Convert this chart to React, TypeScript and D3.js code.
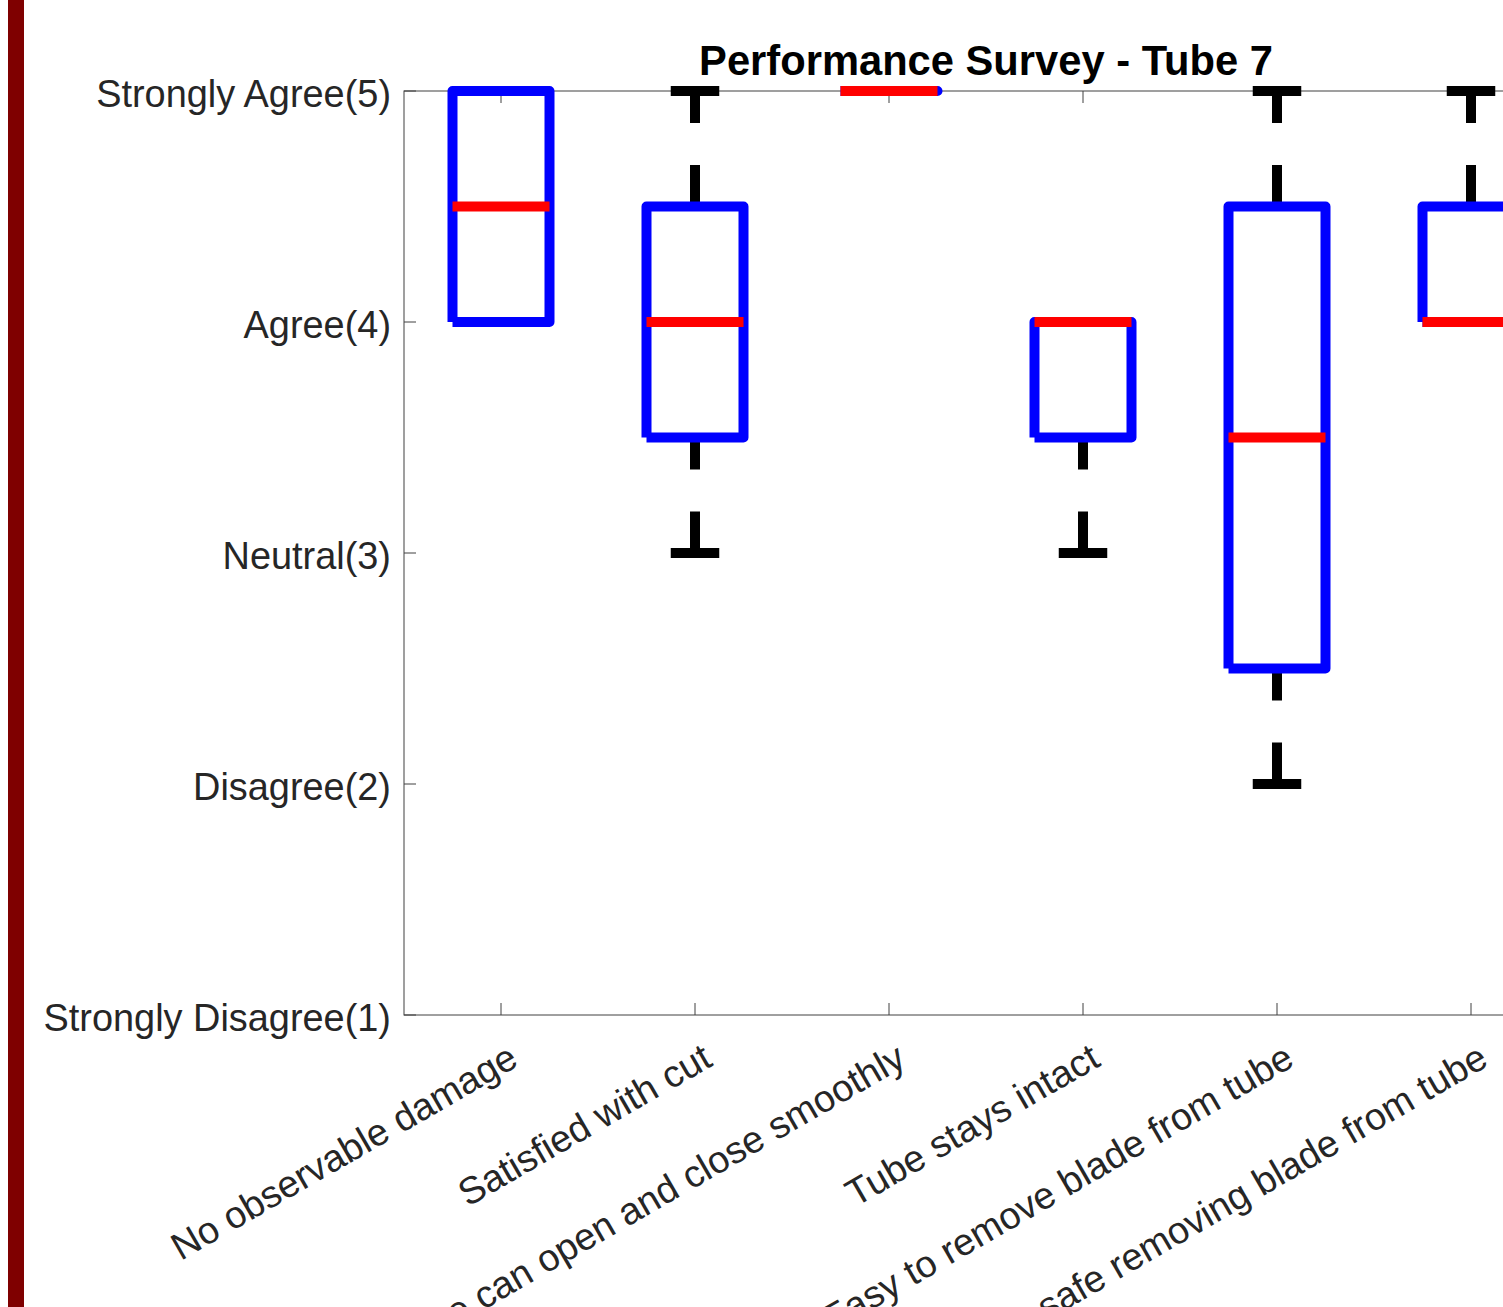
import React from "react";
import * as d3 from "d3";

// survey items (x axis)
const categories = [
  "No observable damage",
  "Satisfied with cut",
  "Tube can open and close smoothly",
  "Tube stays intact",
  "Easy to remove blade from tube",
  "Felt safe removing blade from tube",
];

// box statistics per item
const lowerAdjacent = [4, 3, 5, 3, 2, 4];
const q1 = [4, 3.5, 5, 3.5, 2.5, 4];
const medians = [4.5, 4, 5, 4, 3.5, 4];
const q3 = [5, 4.5, 5, 4, 4.5, 4.5];
const upperAdjacent = [5, 5, 5, 4, 5, 5];

const yTicks = [1, 2, 3, 4, 5];
const yTickLabels = [
  "Strongly Disagree(1)",
  "Disagree(2)",
  "Neutral(3)",
  "Agree(4)",
  "Strongly Agree(5)",
];

const title = "Performance Survey - Tube 7";

const W = 1503;
const H = 1307;
const left = 404;
const right = 1568;
const top = 91;
const bottom = 1015;
const font = "'Liberation Sans', Arial, Helvetica, sans-serif";
const fs = 37.9;
const axisColor = "#404040";
const textColor = "#262626";
const lw = 10;

const App = () => {
  const x = d3
    .scaleLinear()
    .domain([0.5, categories.length + 0.5])
    .range([left, right]);
  const y = d3.scaleLinear().domain([1, 5]).range([bottom, top]);

  const boxHalf = x(1.25) - x(1);
  const capHalf = x(1.125) - x(1);
  const tickLen = 12;

  const line = d3.line<[number, number]>();

  return (
    <div style={{ position: "absolute", left: 0, top: 0, width: W, height: H, background: "#fff" }}>
      <svg width={W} height={H} style={{ display: "block" }}>
        <rect x={0} y={0} width={W} height={H} fill="#fff" />
        <rect x={8} y={0} width={16} height={H} fill="#7f0000" />

        {/* axes box */}
        <g stroke={axisColor} strokeWidth={1} fill="none">
          <rect x={left} y={top} width={right - left} height={bottom - top} />
          {yTicks.map((v) => (
            <g key={"yt" + v}>
              <line x1={left} x2={left + tickLen} y1={y(v)} y2={y(v)} />
              <line x1={right} x2={right - tickLen} y1={y(v)} y2={y(v)} />
            </g>
          ))}
          {categories.map((c, i) => (
            <g key={"xt" + c}>
              <line x1={x(i + 1)} x2={x(i + 1)} y1={bottom} y2={bottom - tickLen} />
              <line x1={x(i + 1)} x2={x(i + 1)} y1={top} y2={top + tickLen} />
            </g>
          ))}
        </g>

        {/* y tick labels */}
        <g fontFamily={font} fontSize={fs} fill={textColor} textAnchor="end">
          {yTicks.map((v, i) => (
            <text key={"yl" + v} x={391} y={y(v) + 16}>
              {yTickLabels[i]}
            </text>
          ))}
        </g>

        {/* x tick labels, rotated 30 degrees */}
        <g fontFamily={font} fontSize={fs} fill={textColor} textAnchor="end">
          {categories.map((c, i) => (
            <text
              key={"xl" + c}
              transform={`translate(${x(i + 1) + 19},${bottom + 50}) rotate(-30)`}
            >
              {c}
            </text>
          ))}
        </g>

        {/* boxes: whiskers, caps, box, median */}
        {categories.map((c, i) => {
          const cx = x(i + 1);
          const upper: [number, number][] = [
            [cx, y(upperAdjacent[i])],
            [cx, y(q3[i])],
          ];
          const lower: [number, number][] = [
            [cx, y(q1[i])],
            [cx, y(lowerAdjacent[i])],
          ];
          const box: [number, number][] = [
            [cx - boxHalf, y(q1[i])],
            [cx - boxHalf, y(q3[i])],
            [cx + boxHalf, y(q3[i])],
            [cx + boxHalf, y(q1[i])],
            [cx - boxHalf, y(q1[i])],
          ];
          return (
            <g key={"b" + c}>
              <g stroke="#000" strokeWidth={lw} fill="none" strokeDasharray="42 42" strokeDashoffset={10}>
                <path d={line(upper) || ""} />
                <path d={line(lower) || ""} />
              </g>
              <g stroke="#000" strokeWidth={lw} fill="none">
                <line x1={cx - capHalf} x2={cx + capHalf} y1={y(upperAdjacent[i])} y2={y(upperAdjacent[i])} />
                <line x1={cx - capHalf} x2={cx + capHalf} y1={y(lowerAdjacent[i])} y2={y(lowerAdjacent[i])} />
              </g>
              <path
                d={line(box) || ""}
                stroke="#0000ff"
                strokeWidth={lw}
                fill="none"
                strokeLinejoin="round"
                strokeLinecap="butt"
              />
              <line
                x1={cx - boxHalf}
                x2={cx + boxHalf}
                y1={y(medians[i])}
                y2={y(medians[i])}
                stroke="#ff0000"
                strokeWidth={lw}
              />
            </g>
          );
        })}

        <text
          x={(left + right) / 2}
          y={75}
          textAnchor="middle"
          fontFamily={font}
          fontSize={fs * 1.1}
          fontWeight="bold"
          fill="#000"
        >
          {title}
        </text>
      </svg>
    </div>
  );
};

export default App;
